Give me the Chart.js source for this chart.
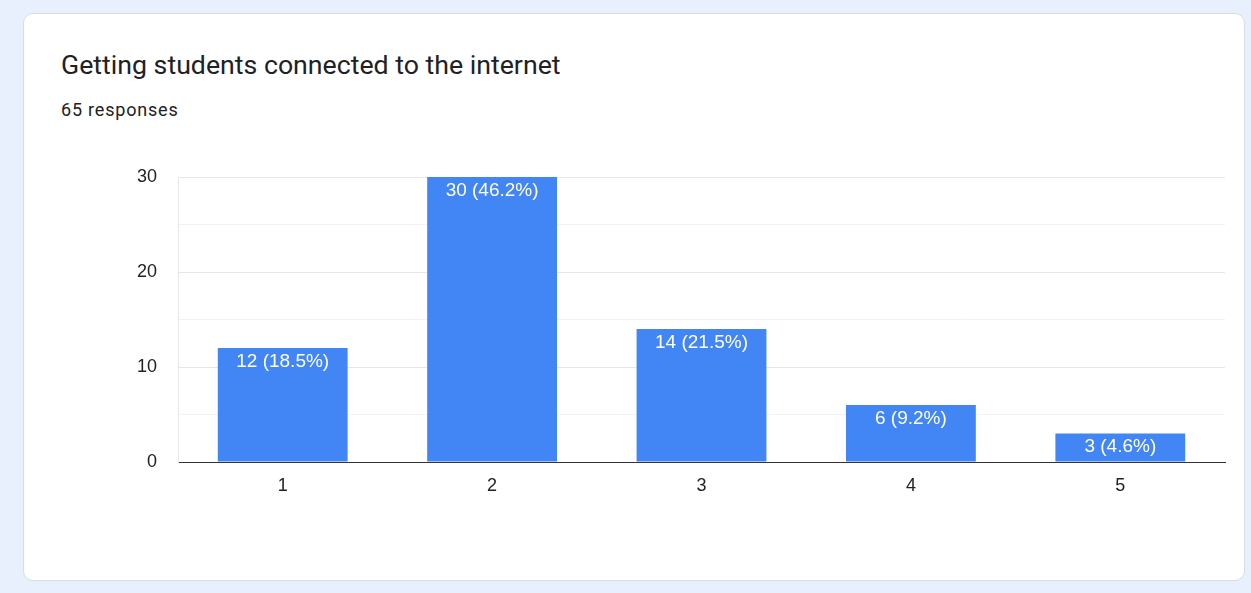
<!DOCTYPE html>
<html>
<head>
<meta charset="utf-8">
<script src="https://cdn.jsdelivr.net/npm/chart.js@4/dist/chart.umd.min.js"></script>
<style>
  html, body { margin: 0; padding: 0; background: #e8f0fe; }
  body { width: 1251px; height: 593px; position: relative; overflow: hidden; }
  .card {
    position: absolute; left: 23px; top: 13px; width: 1220px; height: 566px;
    background: #fff; border: 1px solid #dadce0; border-radius: 10px;
  }
  .title {
    position: absolute; left: 61px; top: 49px; margin: 0;
    font-family: Roboto, sans-serif; font-size: 26.7px; font-weight: 400; color: #202124;
  }
  .sub {
    position: absolute; left: 61px; top: 99px; margin: 0;
    font-family: Roboto, sans-serif; font-size: 18px; letter-spacing: 0.8px; color: #202124;
  }
  #wrap { position: absolute; left: 0; top: 0; width: 1251px; height: 593px; }
</style>
</head>
<body>
<div class="card"></div>
<div class="title">Getting students connected to the internet</div>
<div class="sub">65 responses</div>
<div id="wrap"><canvas id="chart"></canvas></div>
<script>
const categories = ["1", "2", "3", "4", "5"];
const counts = [12, 30, 14, 6, 3];
const percents = ["18.5%", "46.2%", "21.5%", "9.2%", "4.6%"];
const yTicks = [0, 10, 20, 30];

const COLORS = {
  bar: "#4285f4",
  text: "#222222",
  grid: "#e6e6e6",
  minor: "#f3f3f3",
  axis: "#333333"
};
const FONT = "'Liberation Sans', Arial, sans-serif";

const barLabels = {
  id: "barLabels",
  afterDatasetsDraw(chart) {
    const { ctx } = chart;
    const meta = chart.getDatasetMeta(0);
    ctx.save();
    ctx.fillStyle = "#ffffff";
    ctx.font = "19px " + FONT;
    ctx.textAlign = "center";
    ctx.textBaseline = "top";
    meta.data.forEach((bar, i) => {
      ctx.fillText(counts[i] + " (" + percents[i] + ")", bar.x, bar.y + 4);
    });
    ctx.restore();
  }
};

new Chart(document.getElementById("chart"), {
  type: "bar",
  data: {
    labels: categories,
    datasets: [{
      data: counts,
      backgroundColor: COLORS.bar,
      barPercentage: 0.62,
      categoryPercentage: 1
    }]
  },
  plugins: [barLabels],
  options: {
    responsive: true,
    maintainAspectRatio: false,
    animation: false,
    layout: { padding: { left: 100, right: 26, top: 177, bottom: 91 } },
    plugins: {
      legend: { display: false },
      tooltip: { enabled: false }
    },
    scales: {
      x: {
        afterFit: s => { s.height = 40; },
        grid: { display: false, drawTicks: false },
        border: { color: COLORS.axis, width: 1 },
        ticks: {
          color: COLORS.text,
          padding: 13,
          font: { family: FONT, size: 18 }
        }
      },
      y: {
        min: 0,
        max: 30,
        afterFit: s => { s.width = 78; },
        grid: {
          drawTicks: false,
          color: c => (c.tick && c.tick.value % 10 === 0 ? COLORS.grid : COLORS.minor)
        },
        border: { color: COLORS.grid },
        ticks: {
          stepSize: 5,
          color: COLORS.text,
          padding: 21,
          font: { family: FONT, size: 18 },
          callback: v => (yTicks.includes(v) ? v : "")
        }
      }
    }
  }
});
</script>
</body>
</html>
